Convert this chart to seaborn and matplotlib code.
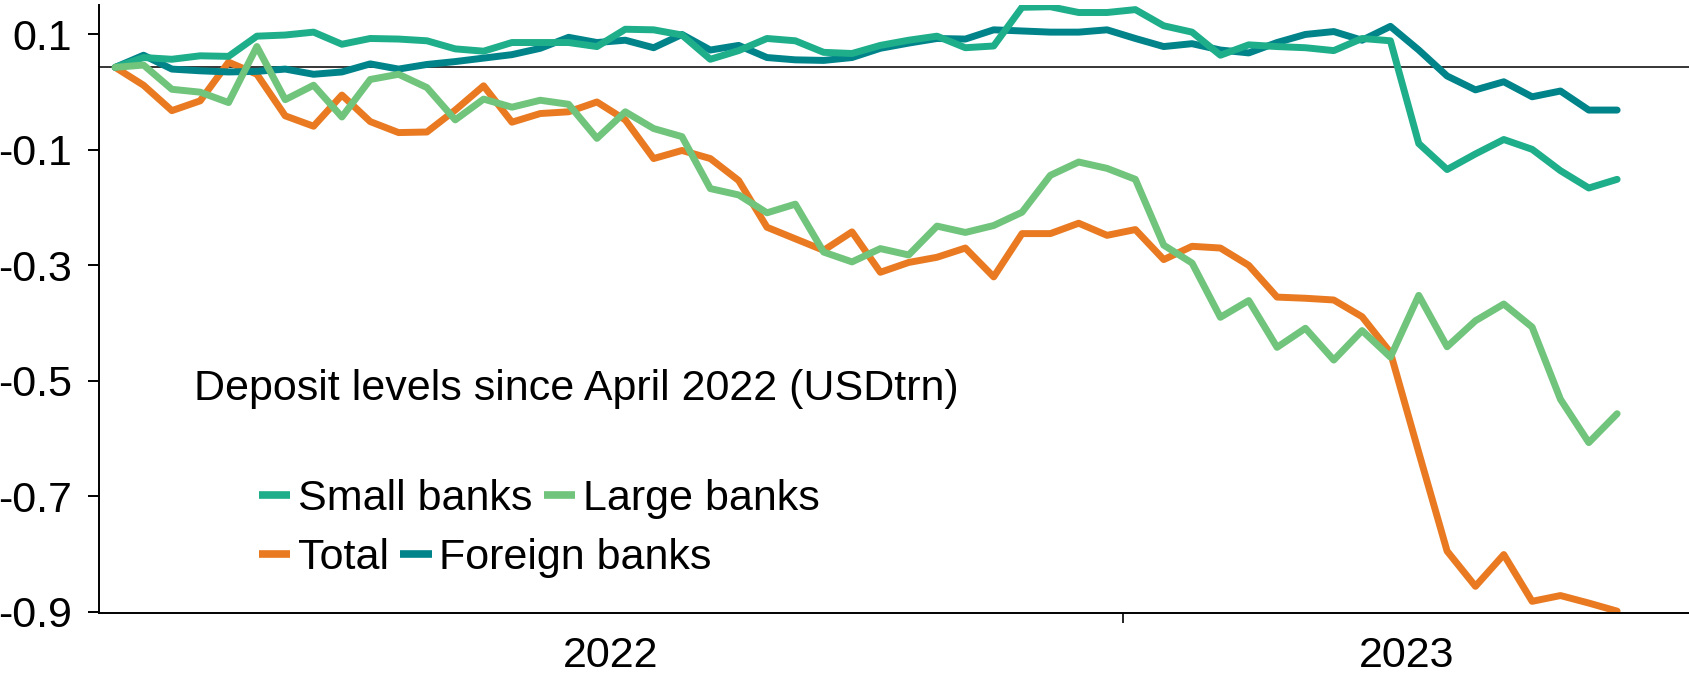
import numpy as np
import pandas as pd
import matplotlib
matplotlib.use("Agg")
import matplotlib.pyplot as plt
from matplotlib.lines import Line2D
import seaborn as sns

# Weekly change in deposit levels since the end of April 2022 (USD trillion)
start_date = "2022-04-27"

small_banks = [
    0.000, 0.017, 0.014, 0.020, 0.019, 0.054, 0.056, 0.061, 0.040, 0.050,
    0.049, 0.046, 0.032, 0.028, 0.043, 0.043, 0.043, 0.036, 0.066, 0.065,
    0.056, 0.014, 0.029, 0.050, 0.046, 0.026, 0.024, 0.038, 0.047, 0.054,
    0.034, 0.037, 0.104, 0.105, 0.095, 0.095, 0.100, 0.072, 0.061, 0.021,
    0.039, 0.036, 0.034, 0.029, 0.050, 0.046, -0.132, -0.177, -0.150, -0.125,
    -0.142, -0.179, -0.209, -0.194,
]

large_banks = [
    0.000, 0.004, -0.038, -0.043, -0.061, 0.036, -0.056, -0.031, -0.086, -0.021,
    -0.012, -0.035, -0.091, -0.055, -0.069, -0.057, -0.064, -0.123, -0.077, -0.106,
    -0.120, -0.210, -0.221, -0.252, -0.237, -0.320, -0.337, -0.314, -0.325, -0.275,
    -0.286, -0.274, -0.251, -0.187, -0.164, -0.175, -0.194, -0.308, -0.339, -0.433,
    -0.404, -0.485, -0.452, -0.507, -0.456, -0.502, -0.395, -0.484, -0.439, -0.410,
    -0.450, -0.575, -0.650, -0.600,
]

total = [
    0.000, -0.031, -0.075, -0.058, 0.009, -0.012, -0.084, -0.102, -0.048, -0.094,
    -0.113, -0.112, -0.074, -0.032, -0.095, -0.080, -0.077, -0.060, -0.091, -0.158,
    -0.144, -0.158, -0.196, -0.277, -0.297, -0.317, -0.285, -0.355, -0.338, -0.329,
    -0.313, -0.363, -0.288, -0.288, -0.270, -0.291, -0.281, -0.333, -0.310, -0.313,
    -0.343, -0.398, -0.400, -0.403, -0.432, -0.494, -0.667, -0.838, -0.899, -0.844,
    -0.925, -0.915, -0.928, -0.942,
]

foreign_banks = [
    0.000, 0.021, -0.003, -0.006, -0.008, -0.007, -0.003, -0.012, -0.008, 0.006,
    -0.003, 0.005, 0.010, 0.016, 0.022, 0.033, 0.052, 0.043, 0.047, 0.034,
    0.057, 0.030, 0.038, 0.017, 0.013, 0.012, 0.017, 0.033, 0.042, 0.050,
    0.049, 0.065, 0.063, 0.061, 0.061, 0.065, 0.050, 0.036, 0.041, 0.030,
    0.025, 0.043, 0.057, 0.062, 0.047, 0.071, 0.030, -0.015, -0.039, -0.025,
    -0.051, -0.041, -0.074, -0.074,
]

colors = {
    "Small banks": "#1FAE8A",
    "Large banks": "#70C47C",
    "Total": "#E97A22",
    "Foreign banks": "#00848A",
}
draw_order = ["Total", "Foreign banks", "Small banks", "Large banks"]

y_ticks = [0.057, -0.143, -0.343, -0.543, -0.743, -0.943]
y_tick_labels = ["0.1", "-0.1", "-0.3", "-0.5", "-0.7", "-0.9"]
year_labels = ["2022", "2023"]
title_text = "Deposit levels since April 2022 (USDtrn)"

dates = pd.date_range(start_date, periods=len(total), freq="7D")
wide = pd.DataFrame({
    "date": dates,
    "Small banks": small_banks,
    "Large banks": large_banks,
    "Total": total,
    "Foreign banks": foreign_banks,
})
df = wide.melt(id_vars="date", var_name="series", value_name="value")

sns.set_style("white")
plt.rcParams["font.family"] = ["Liberation Sans", "DejaVu Sans"]
FS = 31

W, H = 1690, 677
fig = plt.figure(figsize=(W / 100, H / 100), dpi=100)
ax = fig.add_axes([99 / W, 1 - 612.7 / H, 1 - 99 / W, (612.7 - 5) / H])

ax.axhline(0, color="black", lw=1.1, zorder=1)
sns.lineplot(
    data=df, x="date", y="value", hue="series", hue_order=draw_order,
    palette=colors, linewidth=5.0, legend=False, ax=ax, zorder=2,
)

x_start = pd.Timestamp("2022-04-23")
x_end = pd.Timestamp("2023-05-21")
year_break = pd.Timestamp("2023-01-01")
ax.set_xlim(x_start, x_end)
ax.set_ylim(-0.9447, 0.108)

# year boundary tick, with year labels centred in each span
ax.set_xticks([year_break])
ax.set_xticklabels([""])
ax.set_xticks([x_start + (year_break - x_start) / 2,
               year_break + (x_end - year_break) / 2], minor=True)
ax.set_xticklabels(year_labels, minor=True)
ax.tick_params(axis="x", which="major", bottom=True, direction="out",
               length=7, width=1.2, color="black")
ax.tick_params(axis="x", which="minor", bottom=True, length=0, pad=16.5,
               labelsize=FS, labelcolor="black")

ax.set_yticks(y_ticks)
ax.set_yticklabels(y_tick_labels)
ax.tick_params(axis="y", left=True, direction="out", length=8, width=1.4,
               pad=11.5, labelsize=FS, labelcolor="black", color="black")

ax.set_xlabel("")
ax.set_ylabel("")
for side in ("top", "right"):
    ax.spines[side].set_visible(False)
for side in ("left", "bottom"):
    ax.spines[side].set_color("black")
    ax.spines[side].set_linewidth(1.4)

ax.text(0.0597, 0.350, title_text, transform=ax.transAxes, fontsize=FS,
        ha="left", va="baseline", color="black")


def handle(name):
    return Line2D([], [], color=colors[name], lw=5.5, solid_capstyle="butt",
                  label=name)


legend_kw = dict(loc="center left", ncol=2, frameon=False, fontsize=FS,
                 handlelength=0.73, handletextpad=0.17, columnspacing=0.27,
                 borderpad=0, borderaxespad=0, labelcolor="black")
leg_top = ax.legend(handles=[handle("Small banks"), handle("Large banks")],
                    bbox_to_anchor=(0.1006, 0.187), **legend_kw)
ax.add_artist(leg_top)
ax.legend(handles=[handle("Total"), handle("Foreign banks")],
          bbox_to_anchor=(0.1006, 0.090), **legend_kw)

fig.savefig("out.png", dpi=100, facecolor="white")
